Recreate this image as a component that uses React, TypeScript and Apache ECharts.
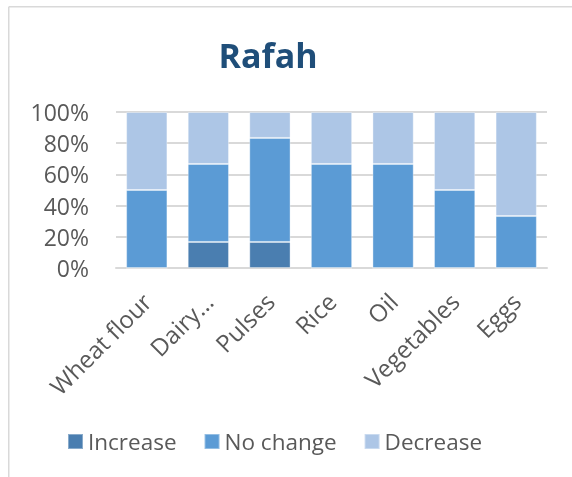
import React, { useEffect, useRef } from "react";
import * as echarts from "echarts";

const categories = ["Wheat flour", "Dairy…", "Pulses", "Rice", "Oil", "Vegetables", "Eggs"];
const increase = [0, 16.7, 16.7, 0, 0, 0, 0];
const noChange = [50, 50, 66.7, 66.7, 66.7, 50, 33.3];
const decrease = [50, 33.3, 16.6, 33.3, 33.3, 50, 66.7];
const yTicks = [0, 20, 40, 60, 80, 100];

const FONT = "'Open Sans', 'Noto Sans', sans-serif";

export default function App() {
  const ref = useRef<HTMLDivElement>(null);
  useEffect(() => {
    if (!ref.current) return;
    const chart = echarts.init(ref.current, undefined, { renderer: "svg" });
    const barBase = {
      type: "bar" as const,
      stack: "total",
      barCategoryGap: "33%",
      itemStyle: { borderColor: "rgba(255,255,255,0.35)", borderWidth: 1 },
    };
    chart.setOption({
      animation: false,
      textStyle: { fontFamily: FONT },
      graphic: [
        {
          type: "line",
          shape: { x1: 8.75, y1: 6.75, x2: 572, y2: 6.75 },
          style: { stroke: "#d9d9d9", lineWidth: 1.5 },
        },
        {
          type: "line",
          shape: { x1: 8.75, y1: 6.75, x2: 8.75, y2: 477 },
          style: { stroke: "#d9d9d9", lineWidth: 1.5 },
        },
        {
          type: "text",
          x: 268,
          y: 55,
          style: {
            text: "Rafah",
            fill: "#1f4e79",
            font: `bold 34px ${FONT}`,
            textAlign: "center",
            textVerticalAlign: "middle",
          },
        },
      ],
      legend: {
        left: 62,
        top: 425,
        itemWidth: 15,
        itemHeight: 15,
        itemGap: 27,
        icon: "rect",
        textStyle: { fontSize: 22.5, color: "#595959", fontFamily: FONT },
        data: ["Increase", "No change", "Decrease"],
      },
      grid: { left: 116, right: 25, top: 112, bottom: 209, containLabel: false },
      xAxis: {
        type: "category",
        data: categories,
        axisLine: { lineStyle: { color: "#d9d9d9", width: 2 } },
        axisTick: { show: false },
        axisLabel: {
          rotate: 45,
          interval: 0,
          margin: 29,
          fontSize: 24,
          color: "#595959",
          fontFamily: FONT,
        },
      },
      yAxis: {
        type: "value",
        min: 0,
        max: 100,
        interval: 20,
        axisLine: { show: false },
        axisTick: { show: false },
        splitLine: { lineStyle: { color: "#d9d9d9", width: 2 } },
        axisLabel: {
          margin: 27,
          fontSize: 23,
          color: "#595959",
          fontFamily: FONT,
          formatter: (v: number) => (yTicks.includes(v) ? `${v}%` : ""),
        },
      },
      series: [
        { ...barBase, name: "Increase", data: increase, color: "#4a7eb0" },
        { ...barBase, name: "No change", data: noChange, color: "#5b9bd5" },
        { ...barBase, name: "Decrease", data: decrease, color: "#adc6e6" },
      ],
    });
    return () => chart.dispose();
  }, []);
  return (
    <div
      ref={ref}
      style={{ position: "fixed", left: 0, top: 0, width: 572, height: 477 }}
    />
  );
}
